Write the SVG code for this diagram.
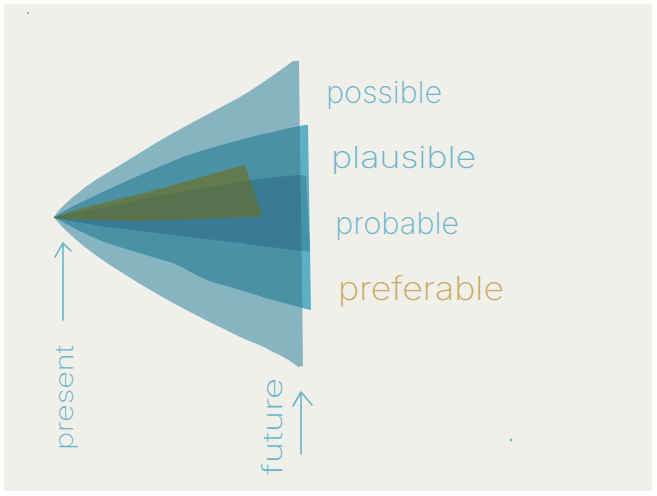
<svg xmlns="http://www.w3.org/2000/svg" width="657" height="496" viewBox="0 0 657 496">
  <style>
    .lbl { font-family: "Inter", "Liberation Sans", "DejaVu Sans", sans-serif; font-weight: 200; font-size: 30px; fill: #68b6ca; }
    .gold { fill: #c9ab63; }
    .arrow { stroke: #68b6ca; stroke-width: 1.6; fill: none; stroke-linecap: round; stroke-linejoin: round; }
  </style>
  <defs>
    <path id="pPossible" d="M54,217 C60,208 66,203 73,197 C85,187 95,180 107,173 C130,159 150,146 173,133 C195,121 218,109 240,97 C260,85 278,72 293,61 L299,61 C300,160 302,260 303,366 L298,367 C290,360 282,356 273,352 C262,346 252,342 240,337 C218,326 195,315 173,303 C150,290 128,277 107,263 C95,255 84,247 73,237 C64,229 58,223 54,217 Z"/>
    <path id="pPlausible" d="M54,217 C72,206 90,198 107,190 C133,178 158,167 183,157 C203,150 222,145 240,140 C252,137 262,134 273,132 C285,129 295,127 305,125 L308,125 C309,185 310,250 311,310 L306,309 C296,306 284,303 273,300 C262,297 251,293 240,290 C228,286 218,284 207,280 C195,275 185,268 173,263 C150,256 128,250 107,243 C88,236 70,226 54,217 Z"/>
    <path id="pProbable" d="M54,217 C72,213 90,210 107,207 C130,202 150,198 173,193 C195,189 218,186 240,182 C262,178 283,176 302,175 L306,176 C307,200 309,225 310,252 L302,251 C282,248 260,246 240,243 C218,240 195,238 173,235 C150,232 128,229 107,227 C88,224 70,221 54,218 Z"/>
    <path id="pPreferable" d="M53,218 C80,208 105,202 140,194 C175,185 210,174 245,165 L262,216 C240,217 205,219 173,220 C145,221 120,221 100,220 C82,220 66,219 53,218 Z"/>
    <clipPath id="clipPossible"><use href="#pPossible"/></clipPath>
    <clipPath id="clipProbable"><use href="#pProbable"/></clipPath>
  </defs>

  <rect x="0" y="0" width="657" height="496" fill="#ffffff"/>
  <rect x="4" y="4" width="648" height="487" fill="#f0efea"/>
  <circle cx="28" cy="13" r="1" fill="#62b3c8"/>
  <circle cx="511" cy="440" r="1.2" fill="#62b3c8"/>

  <g id="cone-possible">
    <use href="#pPossible" fill="#86b5c1"/>
  </g>
  <g id="cone-plausible">
    <use href="#pPlausible" fill="#5db0c3"/>
    <use href="#pPlausible" fill="#4b91a5" clip-path="url(#clipPossible)"/>
  </g>
  <g id="cone-probable">
    <use href="#pProbable" fill="#4592ab"/>
    <use href="#pProbable" fill="#397b95" clip-path="url(#clipPossible)"/>
  </g>
  <g id="cone-preferable">
    <use href="#pPreferable" fill="#617b4f"/>
    <use href="#pPreferable" fill="#58724e" clip-path="url(#clipProbable)"/>
  </g>

  <g id="label-possible"><text class="lbl" x="326" y="103" textLength="116" lengthAdjust="spacingAndGlyphs">possible</text></g>
  <g id="label-plausible"><text class="lbl" x="331" y="168" textLength="145" lengthAdjust="spacingAndGlyphs">plausible</text></g>
  <g id="label-probable"><text class="lbl" x="335" y="234" textLength="124" lengthAdjust="spacingAndGlyphs">probable</text></g>
  <g id="label-preferable"><text class="lbl gold" x="338" y="300" textLength="166" lengthAdjust="spacingAndGlyphs" style="font-size:32px">preferable</text></g>

  <g id="label-present"><text class="lbl" transform="translate(73,450) rotate(-90)" x="0" y="0" style="font-size:24px" textLength="105" lengthAdjust="spacingAndGlyphs">present</text></g>
  <g id="label-future"><text class="lbl" transform="translate(282,475) rotate(-90)" x="0" y="0" style="font-size:26px" textLength="97" lengthAdjust="spacingAndGlyphs">future</text></g>

  <g id="connectors">
    <path class="arrow" d="M63,320 L63,243 M55,257 L63,243 L71,251"/>
    <path class="arrow" d="M301,454 L301,392 M293,406 L301,392 L312,405"/>
  </g>
</svg>
